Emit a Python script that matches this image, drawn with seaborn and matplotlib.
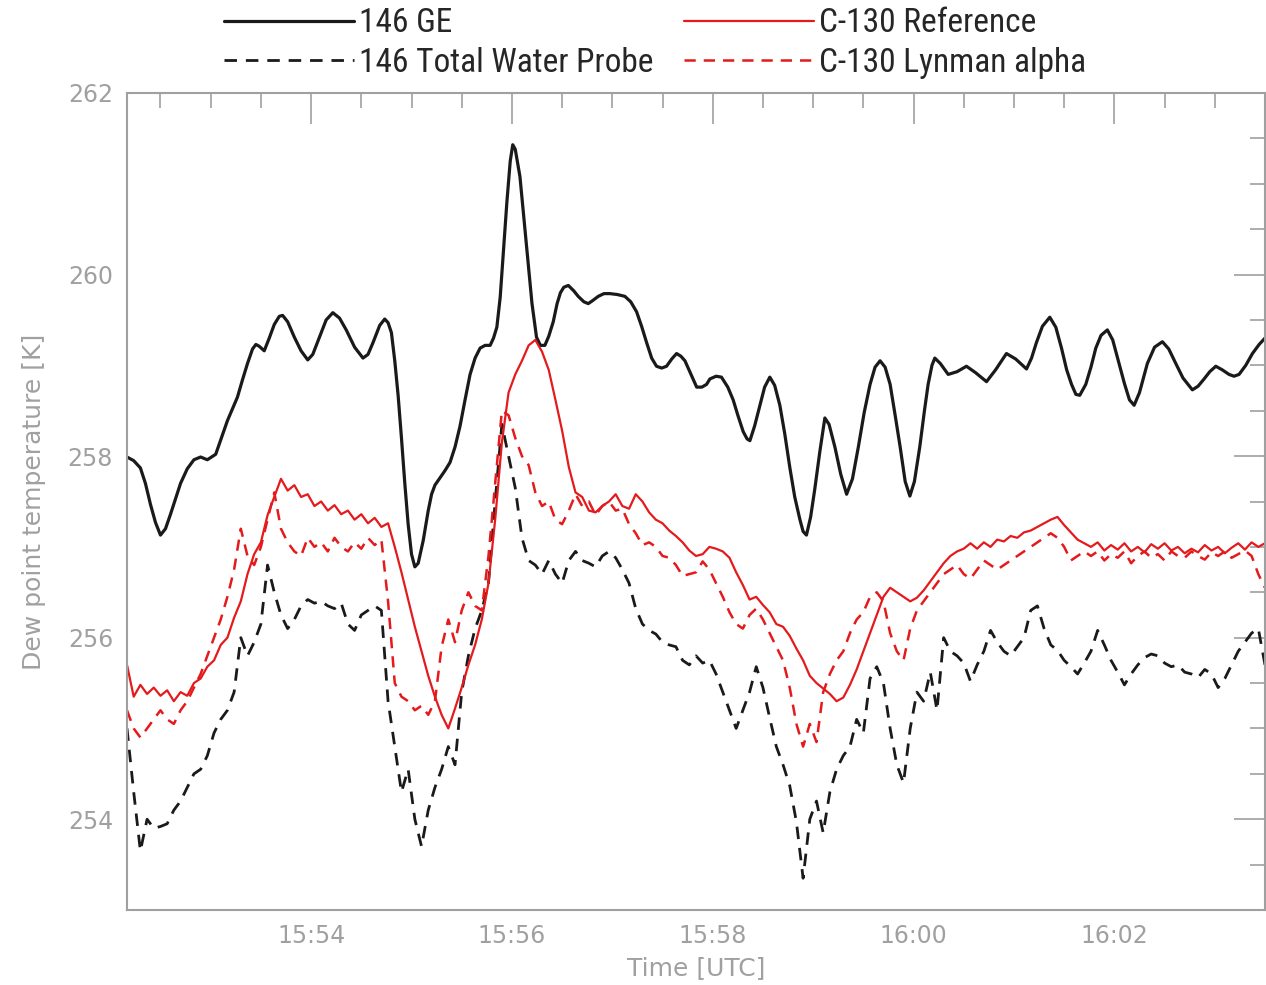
import numpy as np
import pandas as pd
import matplotlib
matplotlib.use("Agg")
import matplotlib.pyplot as plt
import seaborn as sns
from matplotlib import font_manager
from matplotlib.ticker import MultipleLocator, FuncFormatter

# ---------------- data (time in seconds after 15:52:00 UTC, dew point in K) ----------------
ge_time = [10, 14, 18, 21, 24, 27, 30, 33, 36, 39, 42, 46, 50, 54, 58, 63, 66, 70, 73, 76, 79, 82, 85, 87, 89,
           92, 95, 98, 101, 103, 106, 110, 114, 118, 121, 125, 129, 133, 137, 141, 146, 151, 154, 157, 161, 164,
           166, 168, 170, 172, 174, 176, 178, 180, 182, 184, 187, 190, 192, 194, 197, 200, 203, 206, 209, 212,
           215, 218, 221, 224, 227, 229, 231, 233, 235, 237, 239, 240.5, 242, 244.8, 247, 249.8, 252, 254.7, 257,
           259.7, 262, 264.7, 267, 269, 271, 273.7, 277, 279.6, 283, 285.6, 288, 291.6, 295, 298.6, 303, 307.5,
           311, 314.5, 317.5, 320.5, 323.5, 326.4, 329.5, 332.4, 335.5, 338.4, 341, 343.4, 347, 350.4, 353.5,
           356.3, 358.3, 362, 365.2, 369, 372.2, 375, 378.2, 380.5, 382.2, 385, 388.2, 391, 394.1, 397, 400.1,
           403, 406.1, 409, 412.1, 414, 416, 418.5, 421, 424, 427, 429.5, 433, 436.5, 440, 443.5, 447, 450.5,
           454, 457, 460, 463, 466, 469, 472, 475, 477.8, 480.5, 483.7, 486.5, 488.7, 491, 492.7, 496, 500.7,
           506, 511.6, 517, 523.6, 529, 535.5, 541, 547.5, 550.5, 553.4, 557, 561.4, 565, 568.4, 571.5, 574.4,
           577, 579.3, 582.9, 586, 588.9, 592, 595.8, 599, 602.8, 606, 609, 611.8, 615, 619.7, 624, 628.7,
           632.5, 636.7, 641, 646.6, 650, 653.6, 657, 660.6, 664.5, 668.5, 671.5, 674.5, 678.5, 682.5, 686.5, 690]
ge_dew = [257.99, 257.95, 257.87, 257.70, 257.47, 257.27, 257.13, 257.20, 257.36, 257.53, 257.70, 257.86, 257.96,
          257.99, 257.96, 258.02, 258.18, 258.39, 258.52, 258.65, 258.84, 259.02, 259.18, 259.23, 259.21, 259.16,
          259.30, 259.45, 259.54, 259.55, 259.48, 259.31, 259.16, 259.06, 259.12, 259.31, 259.50, 259.58, 259.52,
          259.39, 259.20, 259.08, 259.12, 259.25, 259.44, 259.51, 259.47, 259.36, 259.05, 258.67, 258.20, 257.70,
          257.25, 256.92, 256.78, 256.82, 257.07, 257.40, 257.58, 257.68, 257.76, 257.84, 257.93, 258.10, 258.33,
          258.62, 258.90, 259.08, 259.19, 259.22, 259.22, 259.30, 259.42, 259.75, 260.28, 260.80, 261.25, 261.43,
          261.38, 261.08, 260.65, 260.11, 259.68, 259.31, 259.22, 259.22, 259.32, 259.48, 259.68, 259.80, 259.86,
          259.88, 259.82, 259.76, 259.70, 259.68, 259.71, 259.76, 259.79, 259.79, 259.78, 259.76, 259.70, 259.59,
          259.43, 259.25, 259.08, 258.99, 258.97, 258.99, 259.07, 259.13, 259.10, 259.05, 258.90, 258.76, 258.76,
          258.79, 258.85, 258.88, 258.87, 258.76, 258.62, 258.45, 258.27, 258.19, 258.17, 258.33, 258.56, 258.76,
          258.87, 258.78, 258.56, 258.25, 257.87, 257.55, 257.30, 257.17, 257.13, 257.33, 257.64, 258.05, 258.42,
          258.35, 258.10, 257.80, 257.58, 257.75, 258.10, 258.48, 258.79, 258.98, 259.05, 258.98, 258.79, 258.45,
          258.10, 257.72, 257.56, 257.72, 258.10, 258.50, 258.79, 259.00, 259.08, 259.02, 258.90, 258.93, 258.99,
          258.92, 258.82, 258.95, 259.13, 259.07, 258.96, 259.08, 259.25, 259.43, 259.53, 259.42, 259.19, 258.95,
          258.79, 258.68, 258.67, 258.79, 258.98, 259.19, 259.33, 259.39, 259.28, 259.02, 258.80, 258.62, 258.56,
          258.70, 259.02, 259.20, 259.26, 259.18, 259.02, 258.86, 258.73, 258.77, 258.85, 258.93, 258.99, 258.95,
          258.90, 258.88, 258.90, 259.00, 259.13, 259.23, 259.30]

# 4-second sampled series starting at 15:52:10
twp_dew = [255.00, 254.30, 253.65, 254.00, 253.90, 253.92, 253.95, 254.10, 254.20, 254.35, 254.50, 254.55, 254.70,
           254.95, 255.10, 255.20, 255.40, 256.00, 255.80, 255.95, 256.15, 256.80, 256.50, 256.25, 256.10, 256.20,
           256.35, 256.42, 256.38, 256.40, 256.35, 256.32, 256.38, 256.15, 256.08, 256.25, 256.30, 256.35, 256.30,
           255.30, 254.80, 254.30, 254.55, 254.00, 253.70, 254.10, 254.35, 254.55, 254.80, 254.60, 255.40, 255.80,
           256.10, 256.30, 256.60, 257.50, 258.35, 258.00, 257.65, 257.10, 256.85, 256.80, 256.70, 256.85, 256.70,
           256.60, 256.85, 256.95, 256.85, 256.82, 256.78, 256.90, 256.95, 256.88, 256.75, 256.60, 256.32, 256.15,
           256.08, 256.04, 255.95, 255.92, 255.90, 255.75, 255.70, 255.80, 255.72, 255.75, 255.60, 255.40, 255.20,
           255.00, 255.20, 255.40, 255.68, 255.45, 255.12, 254.80, 254.60, 254.37, 253.97, 253.35, 254.00, 254.20,
           253.85, 254.30, 254.55, 254.70, 254.80, 255.10, 254.95, 255.55, 255.68, 255.50, 255.00, 254.60, 254.40,
           255.00, 255.40, 255.30, 255.62, 255.20, 256.00, 255.85, 255.80, 255.72, 255.52, 255.70, 255.85, 256.08,
           255.95, 255.85, 255.80, 255.90, 256.00, 256.30, 256.35, 256.10, 255.92, 255.86, 255.75, 255.68, 255.60,
           255.72, 255.85, 256.08, 255.92, 255.75, 255.62, 255.48, 255.60, 255.70, 255.78, 255.82, 255.80, 255.72,
           255.68, 255.70, 255.62, 255.60, 255.56, 255.65, 255.60, 255.45, 255.55, 255.70, 255.85, 255.95, 256.05,
           256.10, 255.70]

ref_dew = [255.70, 255.35, 255.48, 255.38, 255.45, 255.36, 255.42, 255.30, 255.40, 255.36, 255.50, 255.55, 255.68,
           255.75, 255.92, 256.00, 256.22, 256.40, 256.70, 256.92, 257.05, 257.35, 257.55, 257.75, 257.62, 257.68,
           257.55, 257.58, 257.45, 257.50, 257.40, 257.46, 257.36, 257.40, 257.30, 257.36, 257.26, 257.32, 257.22,
           257.26, 257.00, 256.72, 256.42, 256.12, 255.85, 255.58, 255.35, 255.15, 255.00, 255.22, 255.45, 255.70,
           255.92, 256.20, 256.60, 257.30, 258.15, 258.70, 258.90, 259.05, 259.22, 259.28, 259.15, 258.95, 258.62,
           258.28, 257.88, 257.60, 257.55, 257.40, 257.38, 257.45, 257.50, 257.58, 257.45, 257.42, 257.58, 257.50,
           257.38, 257.30, 257.26, 257.18, 257.12, 257.05, 256.96, 256.90, 256.92, 257.00, 256.98, 256.95, 256.88,
           256.72, 256.58, 256.42, 256.45, 256.36, 256.28, 256.15, 256.12, 256.02, 255.88, 255.75, 255.58, 255.50,
           255.44, 255.38, 255.30, 255.34, 255.48, 255.65, 255.85, 256.05, 256.25, 256.45, 256.55, 256.50, 256.45,
           256.40, 256.44, 256.52, 256.62, 256.72, 256.82, 256.90, 256.95, 256.98, 257.04, 256.98, 257.05, 257.00,
           257.08, 257.06, 257.12, 257.10, 257.16, 257.18, 257.22, 257.26, 257.30, 257.33, 257.24, 257.16, 257.08,
           257.04, 257.00, 257.05, 256.96, 257.02, 256.97, 257.04, 256.95, 257.00, 256.94, 257.03, 256.98, 257.04,
           256.96, 257.00, 256.93, 256.98, 256.94, 257.02, 256.96, 257.00, 256.93, 256.99, 257.04, 256.97, 257.05,
           257.00, 257.04]

lya_dew = [255.20, 255.00, 254.90, 255.00, 255.10, 255.20, 255.10, 255.05, 255.20, 255.30, 255.45, 255.60, 255.80,
           256.00, 256.20, 256.45, 256.75, 257.20, 256.90, 256.80, 257.00, 257.30, 257.60, 257.20, 257.05, 256.95,
           256.90, 257.10, 257.00, 257.05, 256.95, 257.10, 257.00, 256.95, 257.05, 256.98, 257.10, 257.02, 257.08,
           256.40, 255.50, 255.35, 255.30, 255.20, 255.25, 255.15, 255.30, 255.90, 256.20, 255.95, 256.30, 256.50,
           256.35, 256.30, 256.90, 257.70, 258.50, 258.45, 258.20, 258.00, 257.90, 257.60, 257.45, 257.50, 257.30,
           257.25, 257.40, 257.58, 257.45, 257.50, 257.35, 257.45, 257.50, 257.40, 257.42, 257.25, 257.15, 257.02,
           257.05, 257.00, 256.90, 256.88, 256.80, 256.68, 256.70, 256.72, 256.84, 256.75, 256.60, 256.45, 256.28,
           256.15, 256.10, 256.25, 256.32, 256.20, 256.05, 255.90, 255.75, 255.45, 255.05, 254.80, 255.05, 254.85,
           255.40, 255.60, 255.75, 255.85, 256.05, 256.20, 256.28, 256.45, 256.50, 256.40, 256.05, 255.85, 255.75,
           256.10, 256.30, 256.40, 256.50, 256.60, 256.70, 256.75, 256.80, 256.70, 256.65, 256.75, 256.85, 256.80,
           256.75, 256.80, 256.85, 256.90, 256.95, 257.00, 257.05, 257.10, 257.15, 257.10, 257.00, 256.85, 256.90,
           256.95, 256.90, 256.95, 256.85, 256.92, 256.88, 256.95, 256.82, 256.90, 256.95, 256.88, 256.92, 256.85,
           256.95, 256.90, 256.88, 256.95, 256.90, 256.86, 256.94, 256.90, 256.95, 256.88, 256.92, 256.96, 256.90,
           256.70, 256.55]

sample_start = 10   # s after 15:52:00
sample_step = 4     # s

series_labels = ["146 GE", "146 Total Water Probe", "C-130 Reference", "C-130 Lynman alpha"]

# ---------------- style ----------------
sns.set_style("white")


def pick(fams):
    for f in fams:
        try:
            font_manager.findfont(f, fallback_to_default=False)
            return f
        except Exception:
            pass
    return "DejaVu Sans"


legend_font = pick(["Liberation Sans Narrow", "Roboto Condensed", "Liberation Sans"])
plt.rcParams["font.family"] = ["DejaVu Sans"]

gray = "#a0a0a0"
red = "#e41a1c"
black = "#1a1a1a"

fig = plt.figure(figsize=(12.66, 9.85), dpi=100)
ax = fig.add_axes([127 / 1266, 1 - 910 / 985, (1265 - 127) / 1266, (910 - 93) / 985])

twp_t = sample_start + sample_step * np.arange(len(twp_dew))
ref_t = sample_start + sample_step * np.arange(len(ref_dew))
lya_t = sample_start + sample_step * np.arange(len(lya_dew))

df_ge = pd.DataFrame({"t": ge_time, "v": ge_dew})
df_twp = pd.DataFrame({"t": twp_t, "v": twp_dew})
df_ref = pd.DataFrame({"t": ref_t, "v": ref_dew})
df_lya = pd.DataFrame({"t": lya_t, "v": lya_dew})

sns.lineplot(data=df_ge, x="t", y="v", ax=ax, color=black, lw=2.3, estimator=None, sort=False,
             label=series_labels[0])
sns.lineplot(data=df_twp, x="t", y="v", ax=ax, color=black, lw=2.0, estimator=None, sort=False,
             label=series_labels[1])
sns.lineplot(data=df_ref, x="t", y="v", ax=ax, color=red, lw=1.6, estimator=None, sort=False,
             label=series_labels[2])
sns.lineplot(data=df_lya, x="t", y="v", ax=ax, color=red, lw=1.8, estimator=None, sort=False,
             label=series_labels[3])

lines = ax.get_lines()
lines[1].set_linestyle((0, (4.5, 3.2)))
lines[3].set_linestyle((0, (4.5, 3.2)))

ax.set_xlim(10, 690)
ax.set_ylim(253, 262)

ax.xaxis.set_major_locator(MultipleLocator(120))
ax.xaxis.set_minor_locator(MultipleLocator(30))
ax.yaxis.set_major_locator(MultipleLocator(2))
ax.yaxis.set_minor_locator(MultipleLocator(0.5))


def fmt_time(s, pos=None):
    total = 15 * 3600 + 52 * 60 + int(round(s))
    return "%d:%02d" % (total // 3600, (total % 3600) // 60)


ax.xaxis.set_major_formatter(FuncFormatter(fmt_time))
ax.yaxis.set_major_formatter(FuncFormatter(lambda v, p: "%d" % v))

ax.tick_params(which="both", direction="in", top=True, right=True, color=gray, width=1.2,
               labelcolor=gray, labelsize=17)
ax.tick_params(which="major", length=22, pad=10)
ax.tick_params(which="minor", length=11)
for sp in ax.spines.values():
    sp.set_color(gray)
    sp.set_linewidth(1.5)

ax.set_xlabel("Time [UTC]", color=gray, fontsize=18, labelpad=6)
ax.set_ylabel("Dew point temperature [K]", color=gray, fontsize=18, labelpad=16)

ax.get_legend().remove()
fig.legend(handles=lines, labels=series_labels, ncol=2, loc="center",
           bbox_to_anchor=(655 / 1266, 1 - 43 / 985), frameon=False,
           prop={"family": legend_font, "size": 24}, handlelength=3.9, handletextpad=0.15,
           columnspacing=0.9, labelspacing=0.22, borderpad=0.1)

fig.savefig("out.png", dpi=100, facecolor="white")
